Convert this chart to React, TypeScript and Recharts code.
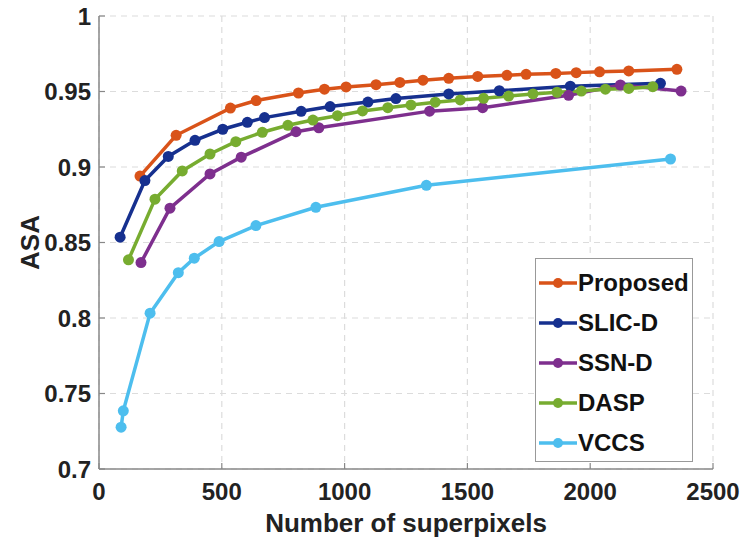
import {
  LineChart,
  Line,
  XAxis,
  YAxis,
  CartesianGrid,
  Legend,
  Label,
} from 'recharts'

// number of superpixels / ASA
const proposedX = [167, 314, 535, 640, 812, 918, 1006, 1128, 1225, 1319, 1424, 1542, 1661, 1739, 1860, 1943, 2038, 2157, 2353]
const proposedY = [0.894, 0.921, 0.939, 0.944, 0.949, 0.9515, 0.953, 0.9545, 0.956, 0.9575, 0.9587, 0.96, 0.9607, 0.9614, 0.962, 0.9625, 0.963, 0.9636, 0.9647]

const slicX = [86, 187, 282, 391, 504, 604, 674, 823, 941, 1095, 1209, 1424, 1630, 1919, 2286]
const slicY = [0.8535, 0.891, 0.907, 0.9177, 0.925, 0.9296, 0.9327, 0.9369, 0.94, 0.943, 0.9453, 0.9484, 0.9505, 0.9535, 0.9554]

const ssnX = [171, 289, 452, 579, 802, 895, 1346, 1562, 1912, 2123, 2370]
const ssnY = [0.8367, 0.8727, 0.8954, 0.9065, 0.9234, 0.926, 0.937, 0.9393, 0.9475, 0.9543, 0.9503]

const daspX = [120, 228, 339, 452, 557, 665, 769, 871, 971, 1073, 1176, 1270, 1369, 1471, 1566, 1668, 1767, 1865, 1964, 2062, 2157, 2255]
const daspY = [0.8385, 0.8787, 0.8974, 0.9086, 0.9168, 0.923, 0.9276, 0.9311, 0.934, 0.9371, 0.9393, 0.941, 0.9429, 0.9444, 0.9455, 0.947, 0.9484, 0.9495, 0.9503, 0.9515, 0.952, 0.9532]

const vccsX = [90, 99, 208, 323, 388, 489, 639, 883, 1333, 2327]
const vccsY = [0.7277, 0.7385, 0.8032, 0.83, 0.8396, 0.8506, 0.8612, 0.8733, 0.8879, 0.9053]

const xTicks = [0, 500, 1000, 1500, 2000, 2500]
const yTicks = [0.7, 0.75, 0.8, 0.85, 0.9, 0.95, 1]

const FONT = '"Liberation Sans", Arial, Helvetica, sans-serif'
const AXIS = '#888888'
const TEXT = '#222222'

const toPoints = (xs: number[], ys: number[]) => xs.map((x, i) => ({ x, y: ys[i] }))

const SERIES = [
  { name: 'Proposed', color: '#D95319', data: toPoints(proposedX, proposedY) },
  { name: 'SLIC-D', color: '#16308F', data: toPoints(slicX, slicY) },
  { name: 'SSN-D', color: '#7E2F8E', data: toPoints(ssnX, ssnY) },
  { name: 'DASP', color: '#77AC30', data: toPoints(daspX, daspY) },
  { name: 'VCCS', color: '#4DBEEE', data: toPoints(vccsX, vccsY) },
]

function LegendBox() {
  return (
    <div
      style={{
        width: 158,
        height: 204,
        border: '1.5px solid #999',
        background: '#fff',
        boxSizing: 'border-box',
        paddingTop: 4,
        fontFamily: FONT,
      }}
    >
      {SERIES.map(s => (
        <div key={s.name} style={{ display: 'flex', alignItems: 'center', height: 40 }}>
          <svg width={42} height={14} style={{ marginLeft: 3 }}>
            <line x1={0} y1={7} x2={38} y2={7} stroke={s.color} strokeWidth={3.5} />
            <circle cx={19} cy={7} r={5} fill={s.color} />
          </svg>
          <span style={{ fontSize: 24, fontWeight: 'bold', color: '#111', marginLeft: -3 }}>{s.name}</span>
        </div>
      ))}
    </div>
  )
}

export default function App() {
  return (
    <div style={{ position: 'absolute', left: 0, top: 0, background: '#fff' }}>
      <LineChart width={744} height={546} margin={{ top: 16, right: 31, bottom: 0, left: 0 }}>
        <CartesianGrid strokeDasharray="6 5" stroke="#dcdcdc" strokeWidth={1.2} />
        <XAxis
          type="number"
          dataKey="x"
          domain={[0, 2500]}
          ticks={xTicks}
          height={77}
          tickSize={-6}
          tickMargin={20}
          axisLine={{ stroke: AXIS, strokeWidth: 1.5 }}
          tickLine={{ stroke: AXIS, strokeWidth: 1.2 }}
          tick={{ fill: TEXT, fontSize: 24, fontWeight: 'bold', fontFamily: FONT }}
        >
          <Label
            value="Number of superpixels"
            position="center"
            dy={15}
            style={{ fill: TEXT, fontSize: 26, fontWeight: 'bold', fontFamily: FONT }}
          />
        </XAxis>
        <XAxis
          xAxisId="top"
          orientation="top"
          type="number"
          dataKey="x"
          domain={[0, 2500]}
          ticks={xTicks}
          height={0}
          tickSize={-6}
          tick={false}
          axisLine={{ stroke: AXIS, strokeWidth: 1.5 }}
          tickLine={{ stroke: AXIS, strokeWidth: 1.2 }}
        />
        <YAxis
          type="number"
          dataKey="y"
          domain={[0.7, 1]}
          ticks={yTicks}
          width={99}
          tickSize={-6}
          tickMargin={14}
          tickFormatter={v => String(v)}
          axisLine={{ stroke: AXIS, strokeWidth: 1.5 }}
          tickLine={{ stroke: AXIS, strokeWidth: 1.2 }}
          tick={{ fill: TEXT, fontSize: 24, fontWeight: 'bold', fontFamily: FONT }}
        >
          <Label
            value="ASA"
            angle={-90}
            position="center"
            dx={-20}
            style={{ fill: TEXT, fontSize: 26, fontWeight: 'bold', fontFamily: FONT }}
          />
        </YAxis>
        <YAxis
          yAxisId="right"
          orientation="right"
          type="number"
          domain={[0.7, 1]}
          ticks={yTicks}
          width={0}
          tickSize={-6}
          tick={false}
          axisLine={{ stroke: AXIS, strokeWidth: 1.5 }}
          tickLine={{ stroke: AXIS, strokeWidth: 1.2 }}
        />
        <Legend
          layout="horizontal"
          align="center"
          verticalAlign="middle"
          wrapperStyle={{ left: 535, top: 258, width: 158, height: 204 }}
          content={() => <LegendBox />}
        />
        {SERIES.map(s => (
          <Line
            key={s.name}
            name={s.name}
            data={s.data}
            dataKey="y"
            type="linear"
            stroke={s.color}
            strokeWidth={3.5}
            dot={{ r: 5.5, fill: s.color, stroke: 'none' }}
            activeDot={false}
            isAnimationActive={false}
          />
        ))}
      </LineChart>
    </div>
  )
}
